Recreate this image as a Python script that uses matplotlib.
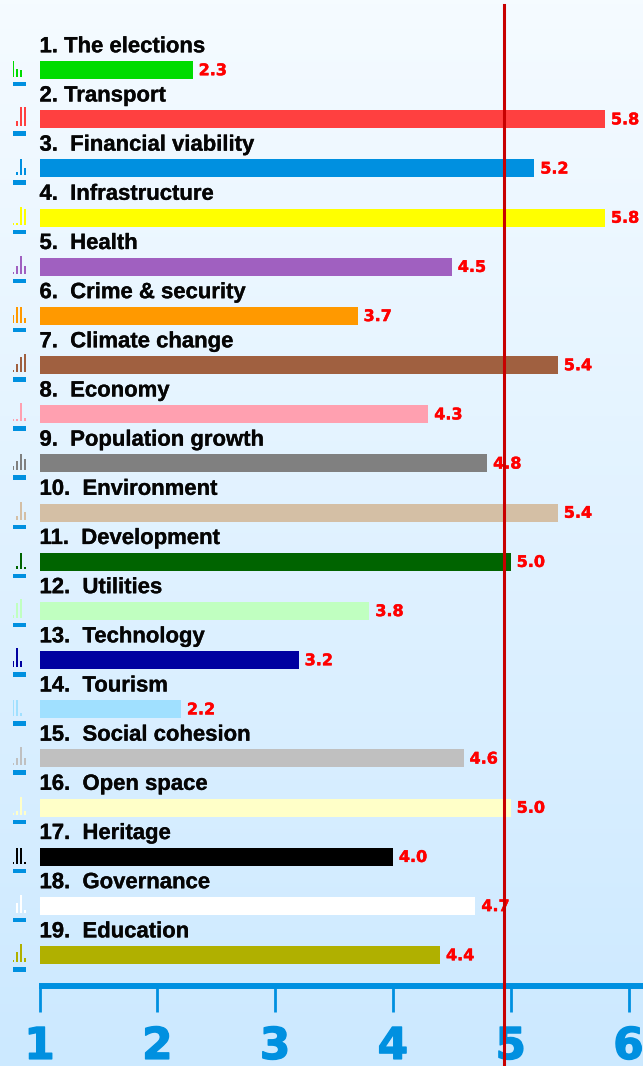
import numpy as np
import matplotlib
matplotlib.use('Agg')
import matplotlib.pyplot as plt
import matplotlib.patheffects as pe

# dados
labels = ['1. The elections', '2. Transport', '3.  Financial viability', '4.  Infrastructure',
          '5.  Health', '6.  Crime & security', '7.  Climate change', '8.  Economy',
          '9.  Population growth', '10.  Environment', '11.  Development', '12.  Utilities',
          '13.  Technology', '14.  Tourism', '15.  Social cohesion', '16.  Open space',
          '17.  Heritage', '18.  Governance', '19.  Education']
values = [2.3, 5.8, 5.2, 5.8, 4.5, 3.7, 5.4, 4.3, 4.8, 5.4, 5.0, 3.8, 3.2, 2.2, 4.6, 5.0, 4.0, 4.7, 4.4]
colors = ['#00dc00', '#ff4040', '#0090e0', '#ffff00', '#a060c0', '#ff9900', '#a06040', '#ffa0b0',
          '#808080', '#d4bfa5', '#006400', '#c0ffc0', '#0000a0', '#a0e0ff', '#c0c0c0', '#ffffc8',
          '#000000', '#ffffff', '#b0b000']
# mini histogramas (4 colunas por linha)
hist1 = [16, 0, 0, 2, 2, 8, 2, 2, 4, 0, 0, 3, 6, 16, 2, 2, 2, 0, 2]
hist2 = [8, 5, 3, 2, 8, 16, 8, 2, 9, 4, 3, 15, 19, 16, 7, 4, 16, 10, 10]
hist3 = [7, 19, 16, 18, 18, 16, 15, 18, 16, 18, 16, 19, 6, 3, 18, 18, 16, 18, 18]
hist4 = [0, 19, 7, 16, 8, 5, 18, 3, 11, 8, 2, 0, 0, 0, 7, 4, 2, 3, 4]
ticks = [1, 2, 3, 4, 5, 6]
reference = 4.94

W, H = 643, 1066
BLUE = '#0090e0'
px_unit = 117.8
x0 = 39.5
row0 = 70
row_step = 49.17

fig = plt.figure(figsize=(W / 100, H / 100), dpi=100)

# fundo em degrade
bg = fig.add_axes([0, 0, 1, 1], zorder=0)
top = np.array([245, 251, 255]) / 255
bottom = np.array([204, 233, 255]) / 255
grad = np.linspace(0, 1, 256)[:, None, None] * (bottom - top) + top
bg.imshow(grad, aspect='auto')
bg.axis('off')

ax = fig.add_axes([0, 0, 1, 1], zorder=1)
ax.patch.set_alpha(0)
ax.set_xlim(1 - x0 / px_unit, 1 + (W - x0) / px_unit)
ax.set_ylim((H - row0) / row_step, -row0 / row_step)

rows = np.arange(len(values))
ax.barh(rows, np.array(values) - 1, left=1, height=18 / row_step, color=colors)

for i, (lab, val) in enumerate(zip(labels, values)):
    ax.text(1, i - 17.7 / row_step, lab, family='Liberation Sans', weight='bold', fontsize=15.9,
            color='#050505', va='baseline', ha='left',
            path_effects=[pe.withStroke(linewidth=0.2, foreground='#050505')])
    ax.annotate(f'{val:.1f}', (val, i), xytext=(6 * 0.72, -0.5), textcoords='offset points',
                family='DejaVu Sans', weight='bold', fontsize=11.5, color='#ff0000',
                va='center', ha='left',
                path_effects=[pe.withStroke(linewidth=0.3, foreground='#ff0000')])

# eixo x
for s in ['top', 'left', 'right']:
    ax.spines[s].set_visible(False)
ax.spines['bottom'].set_position(('data', (986 - row0) / row_step))
ax.spines['bottom'].set_color(BLUE)
ax.spines['bottom'].set_linewidth(4.3)
ax.spines['bottom'].set_capstyle('butt')
ax.spines['bottom'].set_bounds(1 - 1 / px_unit, ax.get_xlim()[1])
ax.set_yticks([])
ax.set_xticks(ticks)
ax.tick_params(axis='x', direction='out', length=19, width=2, color=BLUE, pad=9,
               labelsize=31.5, labelcolor=BLUE)
for t in ax.get_xticklabels():
    t.set_fontweight('bold')
    t.set_family('DejaVu Sans')
    t.set_path_effects([pe.withStroke(linewidth=1.0, foreground=BLUE)])

ax.axvline(reference, ymin=0, ymax=1 - 5 / H, color='#c80000', lw=2.2, zorder=6)

# mini histogramas a esquerda das barras
for i, h in enumerate(zip(hist1, hist2, hist3, hist4)):
    base = row0 + row_step * i + 7
    mini = fig.add_axes([13 / W, 1 - base / H, 13 / W, 19 / H], zorder=2)
    mini.bar([1, 2, 3, 4], h, width=0.5, color=colors[i])
    mini.bar(1, -4.5, bottom=-5, width=3.25, align='edge', color=BLUE, clip_on=False)
    mini.set_xlim(1, 4.25)
    mini.set_ylim(0, 19)
    mini.axis('off')

fig.savefig('out.png', dpi=100)
